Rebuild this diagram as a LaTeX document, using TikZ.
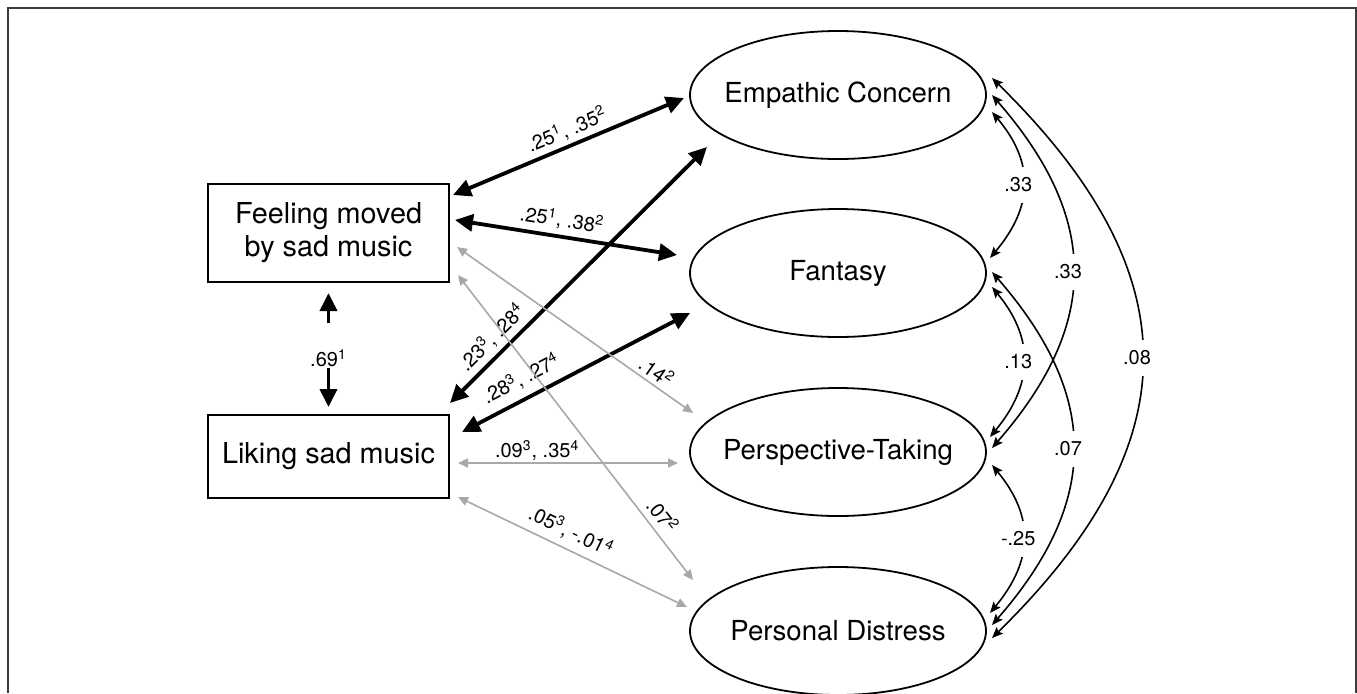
\documentclass[tikz,border=0pt]{standalone}
\usepackage{fontspec}
\setmainfont{TeX Gyre Heros}
\usetikzlibrary{arrows.meta,calc,shapes.geometric}
\definecolor{arrowgray}{HTML}{A8A8A8}
\definecolor{framegray}{HTML}{3C3C3C}
\newcommand{\sups}[1]{\textsuperscript{#1}}
\begin{document}
\begin{tikzpicture}[x=0.5pt,y=-0.5pt,
  box/.style={draw, line width=1pt, minimum width=120.5pt, inner sep=0pt, align=center,
    font=\fontsize{14.4}{16.5}\selectfont},
  latent/.style={draw, ellipse, line width=0.9pt, minimum width=148pt, minimum height=64pt, inner sep=0pt},
  ellfont/.style={font=\fontsize{13.8}{16}\selectfont, inner sep=0pt},
  bigarrow/.style={line width=1.9pt, {Triangle[length=9pt,width=8.5pt]}-{Triangle[length=9pt,width=8.5pt]}},
  grayarrow/.style={draw=arrowgray, line width=0.8pt, {Triangle[length=5pt,width=4.5pt]}-{Triangle[length=5pt,width=4.5pt]}},
  covar/.style={line width=0.8pt, {Stealth[length=5.5pt,width=4.5pt,inset=1pt]}-{Stealth[length=5.5pt,width=4.5pt,inset=1pt]}},
  lab/.style={font=\fontsize{10}{12}\selectfont, inner sep=1pt},
  clab/.style={font=\fontsize{10}{12}\selectfont, fill=white, inner sep=1pt, minimum height=18pt, xshift=-2.5pt},
]
\useasboundingbox (0,0) rectangle (1357,693);
\draw[framegray, line width=1pt] (8,693) -- (8,8) -- (1355.5,8) -- (1355.5,693);

% observed variables
\node[box, minimum height=49pt] (feel) at (328.5,233) {Feeling moved\\by sad music};
\node[box, minimum height=41.5pt] (like) at (328.5,456.5) {Liking sad music};

% latent variables
\node[latent, label={[ellfont]center:Empathic Concern}] (ec) at (838,95) {};
\node[latent, label={[ellfont]center:Fantasy}] (fan) at (838,273) {};
\node[latent, label={[ellfont]center:Perspective-Taking}] (per) at (838,452) {};
\node[latent, label={[ellfont]center:Personal Distress}] (pd) at (838,631) {};

% feeling -- liking
\draw[bigarrow] ($(feel)+(0,60)$) -- ($(like)+(0,-49.5)$)
  node[lab, fill=white, pos=0.46, minimum height=22.5pt, inner sep=0pt]
  {\raisebox{-10.75pt}[0pt][0pt]{.69\sups{1}}};

% thick black connectors
\draw[bigarrow] ($(feel)+(124.5,-38)$) -- ($(ec)+(-154,3)$)
  node[lab, sloped, above=1pt, pos=0.52] {.25\sups{1}, .35\sups{2}};
\draw[bigarrow] ($(feel)+(126.5,-13)$) -- ($(fan)+(-161,-18)$)
  node[lab, sloped, above=1.5pt, pos=0.47] {.25\sups{1}, .38\sups{2}};
\draw[bigarrow] ($(like)+(121.5,-53.5)$) -- ($(ec)+(-131,52)$)
  node[lab, sloped, above=1.5pt, pos=0.21] {.23\sups{3}, .28\sups{4}};
\draw[bigarrow] ($(like)+(133.5,-24.5)$) -- ($(fan)+(-148,40)$)
  node[lab, sloped, above=3pt, pos=0.30] {.28\sups{3}, .27\sups{4}};

% gray connectors
\draw[grayarrow] ($(like)+(129.5,6.5)$) -- ($(per)+(-160,11)$)
  node[lab, above, pos=0.36] {.09\sups{3}, .35\sups{4}};
\draw[grayarrow] ($(like)+(129.5,40.5)$) -- ($(pd)+(-151,-24)$)
  node[lab, sloped, above=2.5pt, pos=0.46] {.05\sups{3}, -.01\sups{4}};
\draw[grayarrow] ($(feel)+(128.5,14)$) -- ($(per)+(-145,-39)$)
  node[lab, sloped, above=1pt, pos=0.815] {.14\sups{2}};
\draw[grayarrow] ($(feel)+(129.5,42)$) -- ($(pd)+(-145,-51)$)
  node[lab, sloped, above=2pt, pos=0.82] {.07\sups{2}};

% covariances among latent variables
\draw[covar] ($(ec)+(154,17)$) .. controls +(43,51) and +(43,-51) .. ($(fan)+(152,-15)$)
  node[clab, pos=0.5] {.33};
\draw[covar] ($(ec)+(154,0)$) .. controls +(108,124) and +(108,-124) .. ($(per)+(154,-4)$)
  node[clab, pos=0.5] {.33};
\draw[covar] ($(ec)+(154,-17)$) .. controls +(200,196) and +(200,-196) .. ($(pd)+(154,7)$)
  node[clab, pos=0.5] {.08};
\draw[covar] ($(fan)+(154,14)$) .. controls +(43,52) and +(43,-52) .. ($(per)+(152,-15)$)
  node[clab, pos=0.5] {.13};
\draw[covar] ($(fan)+(154,-1)$) .. controls +(108,124) and +(108,-124) .. ($(pd)+(154,-6)$)
  node[clab, pos=0.5] {.07};
\draw[covar] ($(per)+(154,13)$) .. controls +(43,52) and +(43,-52) .. ($(pd)+(152,-18)$)
  node[clab, pos=0.5] {-.25};
\end{tikzpicture}
\end{document}
